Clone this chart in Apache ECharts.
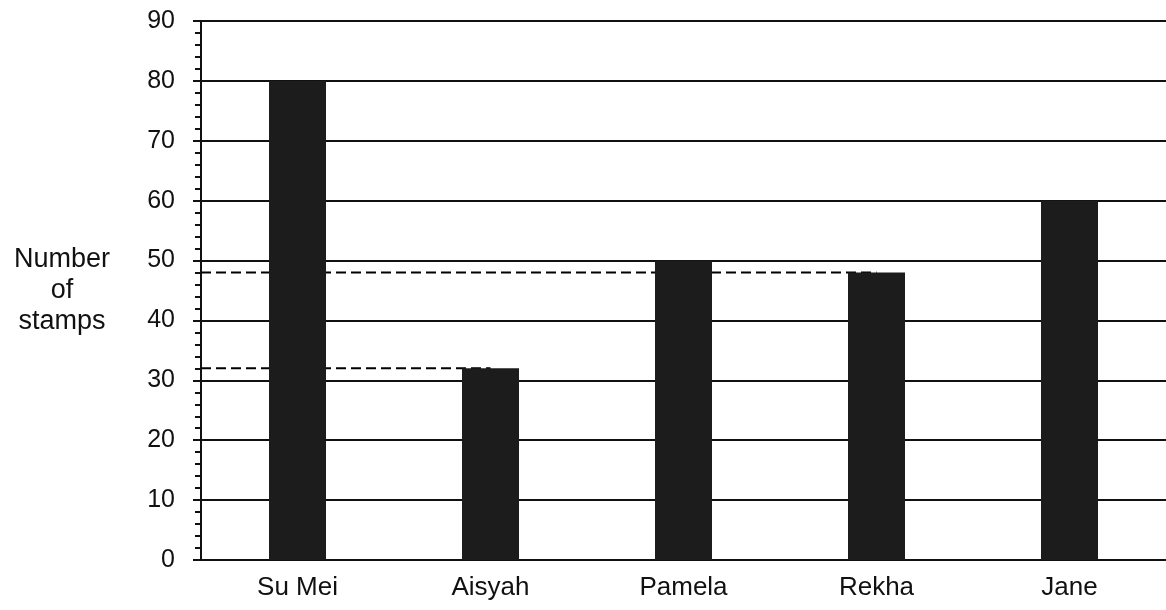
<!DOCTYPE html>
<html>
<head>
<meta charset="utf-8">
<script src="https://cdn.jsdelivr.net/npm/echarts@6/dist/echarts.min.js"></script>
<style>
  html, body { margin: 0; padding: 0; background: #fff; }
  #chart { width: 1166px; height: 610px; }
</style>
</head>
<body>
<div id="chart"></div>
<script>
const names = ['Su Mei', 'Aisyah', 'Pamela', 'Rekha', 'Jane'];
const stamps = [80, 32, 50, 48, 60];
const yTicks = { min: 0, max: 90, interval: 10 };
// dashed guides: from the y axis across to the named bar
const guides = [
  { to: 'Aisyah', value: 32 },
  { to: 'Rekha', value: 48 }
];

const font = '"Liberation Sans", Arial, sans-serif';
const ink = '#111';

const guideSeries = guides.map(g => ({
  type: 'line',
  xAxisIndex: 1,
  z: 1,
  silent: true,
  symbol: 'none',
  lineStyle: { color: '#000', width: 2, type: [10, 5] },
  data: [[0, g.value], [names.indexOf(g.to) + 0.5, g.value]]
}));

const chart = echarts.init(document.getElementById('chart'));
chart.setOption({
  animation: false,
  grid: { left: 201, right: 0, top: 21, bottom: 50 },
  xAxis: [
    {
      type: 'category',
      data: names,
      axisLine: { lineStyle: { color: ink, width: 2 } },
      axisTick: { show: false },
      axisLabel: { color: ink, fontFamily: font, fontSize: 26, margin: 15 }
    },
    { type: 'value', min: 0, max: names.length, show: false }
  ],
  yAxis: {
    type: 'value',
    min: yTicks.min,
    max: yTicks.max,
    interval: yTicks.interval,
    name: 'Number\nof\nstamps',
    nameLocation: 'middle',
    nameRotate: 0,
    nameGap: 139,
    nameTextStyle: {
      color: ink, fontFamily: font, fontSize: 27, lineHeight: 31,
      align: 'center', verticalAlign: 'middle', padding: [0, 0, 40, 0]
    },
    axisLine: { show: true, lineStyle: { color: ink, width: 2 } },
    axisTick: { show: true, length: 8, lineStyle: { color: ink, width: 2 } },
    minorTick: { show: true, splitNumber: 5, length: 6, lineStyle: { color: ink, width: 2 } },
    splitLine: { lineStyle: { color: ink, width: 2 } },
    axisLabel: { color: ink, fontFamily: font, fontSize: 25, margin: 26 }
  },
  series: [
    {
      type: 'bar',
      z: 3,
      barWidth: 57,
      itemStyle: { color: '#1c1c1c' },
      data: stamps
    },
    ...guideSeries
  ]
});
</script>
</body>
</html>
